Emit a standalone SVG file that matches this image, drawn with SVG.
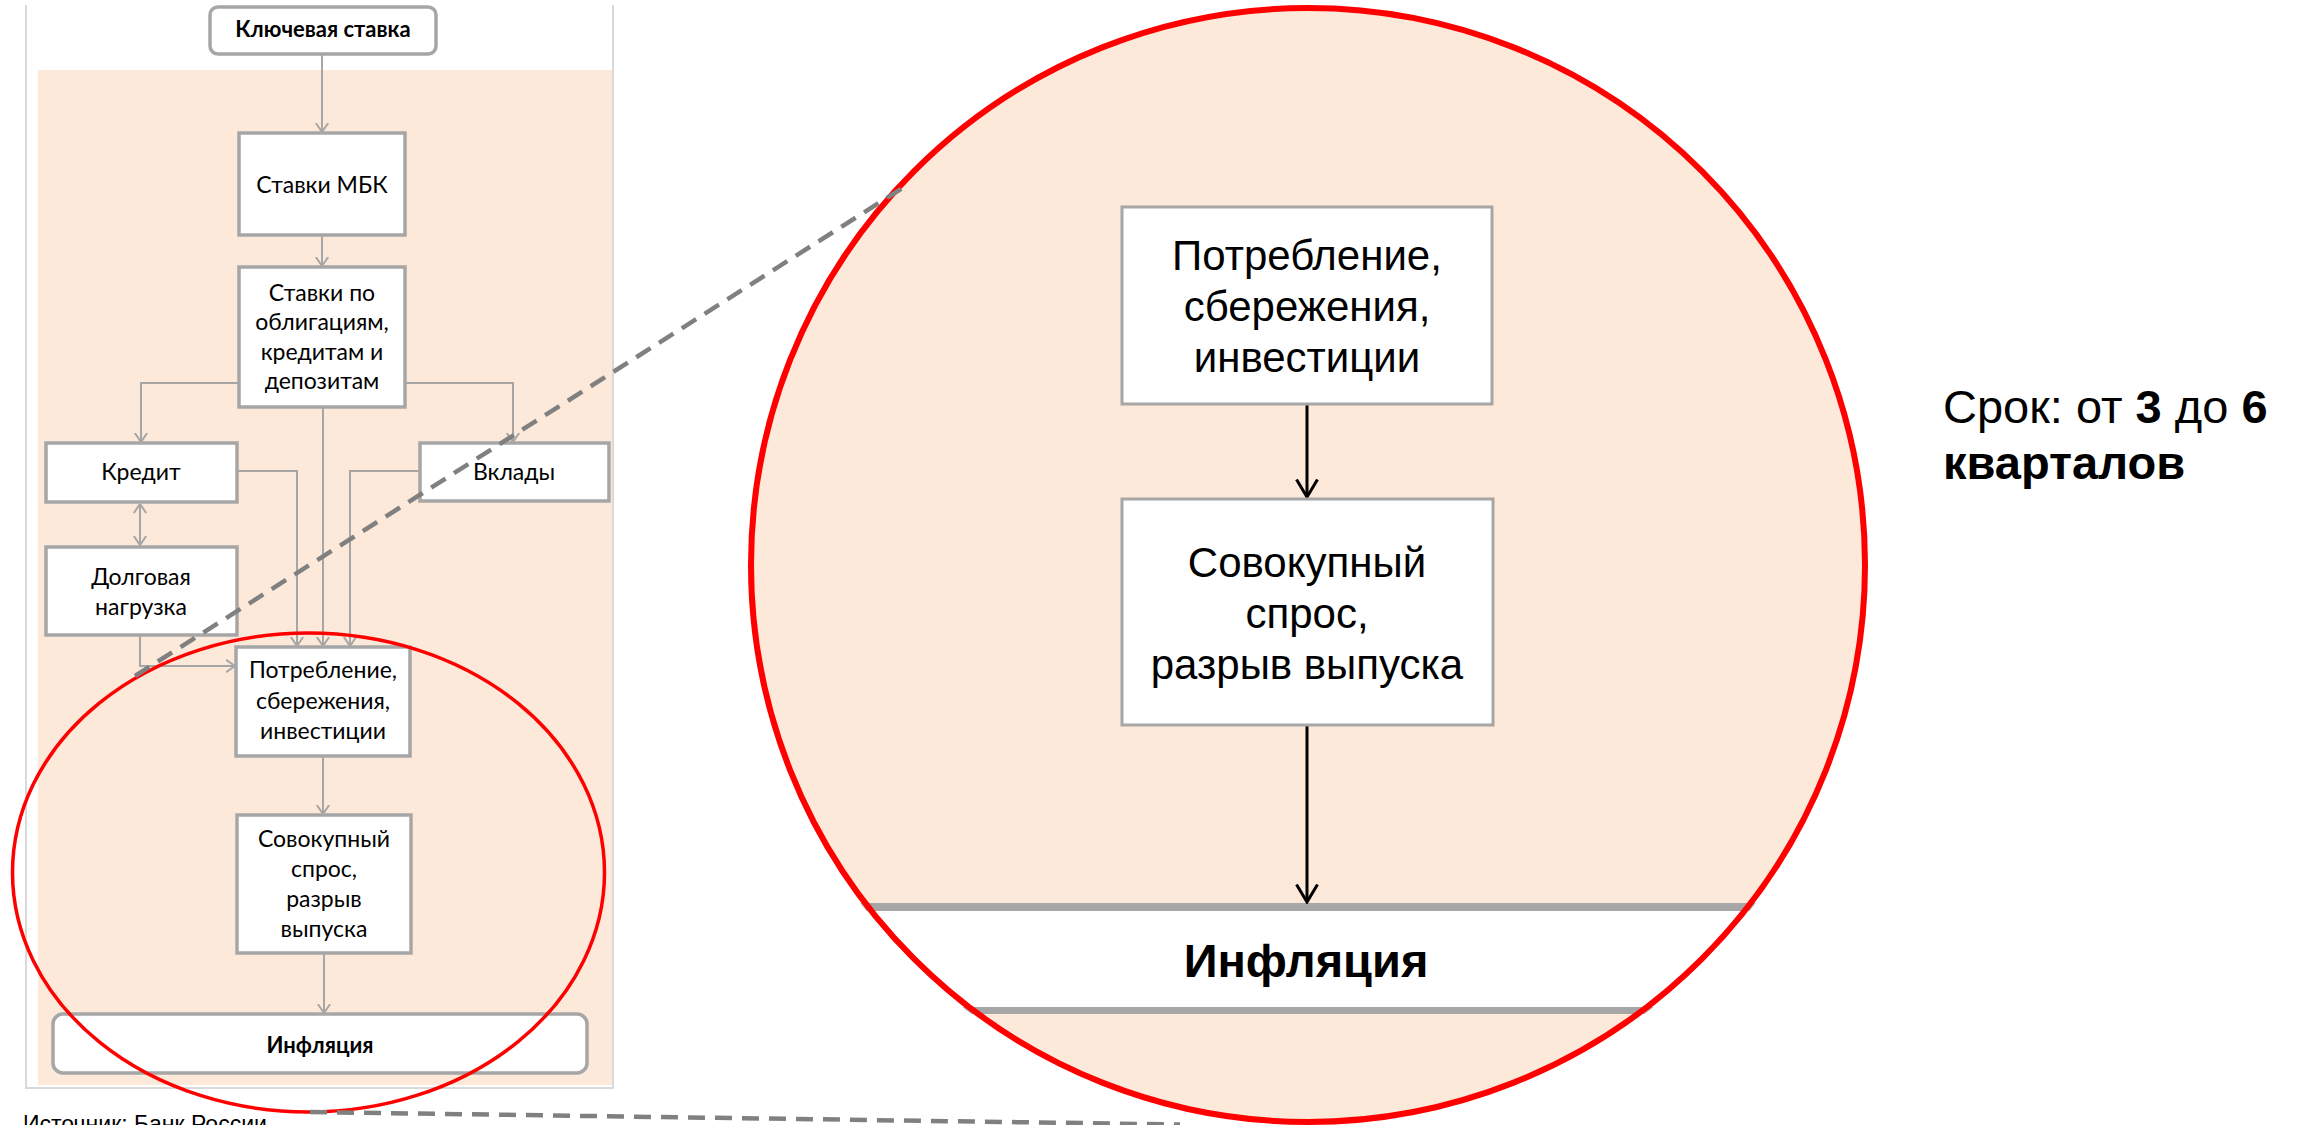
<svg xmlns="http://www.w3.org/2000/svg" width="2300" height="1125" viewBox="0 0 2300 1125">
  <style>
    .lbox { fill: #ffffff; stroke: #a6a6a6; stroke-width: 3.5; }
    .lt { font-family: Lato, "Liberation Sans", sans-serif; font-size: 23px; fill: #000; text-anchor: middle; }
    .ltb { font-family: Lato, "Liberation Sans", sans-serif; font-size: 22px; font-weight: bold; fill: #000; text-anchor: middle; }
    .gc { fill: none; stroke: #a6a6a6; stroke-width: 2; }
    .bbox { fill: #ffffff; stroke: #a6a6a6; stroke-width: 3; }
    .bt { font-family: "Liberation Sans", Arial, sans-serif; font-size: 42px; fill: #000; text-anchor: middle; }
    .btb { font-family: "Liberation Sans", Arial, sans-serif; font-size: 47px; font-weight: bold; fill: #000; text-anchor: middle; }
    .bc { fill: none; stroke: #000; stroke-width: 3; }
    .dash { fill: none; stroke: #808080; stroke-width: 4.5; stroke-dasharray: 17 10; }
    .rt { font-family: "Liberation Sans", Arial, sans-serif; font-size: 47px; fill: #000; }
  </style>
  <defs>
    <marker id="ag" viewBox="0 0 10 14" refX="9.5" refY="7" markerWidth="10" markerHeight="14" markerUnits="userSpaceOnUse" orient="auto-start-reverse">
      <path d="M0.5,0.8 L9.5,7 L0.5,13.2" fill="none" stroke="#a6a6a6" stroke-width="2"/>
    </marker>
    <marker id="ab" viewBox="0 0 20 24" refX="18.5" refY="12" markerWidth="20" markerHeight="24" markerUnits="userSpaceOnUse" orient="auto">
      <path d="M1,1.5 L18.5,12 L1,22.5" fill="none" stroke="#000" stroke-width="3"/>
    </marker>
    <clipPath id="bigclip">
      <circle cx="1308" cy="565" r="561"/>
    </clipPath>
  </defs>

  <rect x="0" y="0" width="2300" height="1125" fill="#ffffff"/>

  <!-- Left panel background -->
  <g id="left-panel">
    <rect x="38" y="70" width="575" height="1015" fill="#fde9d9"/>
    <path d="M26,5 V1088 H613 V5" fill="none" stroke="#d9d9d9" stroke-width="2"/>
  </g>

  <!-- Left connectors -->
  <g id="connectors-left">
    <path class="gc" d="M322,55 V132" marker-end="url(#ag)"/>
    <path class="gc" d="M322,236 V266" marker-end="url(#ag)"/>
    <path class="gc" d="M239,383 H141 V442" marker-end="url(#ag)"/>
    <path class="gc" d="M405,383 H513 V442" marker-end="url(#ag)"/>
    <path class="gc" d="M140,504 V545" marker-start="url(#ag)" marker-end="url(#ag)"/>
    <path class="gc" d="M237,471 H297 V646" marker-end="url(#ag)"/>
    <path class="gc" d="M323,408 V646" marker-end="url(#ag)"/>
    <path class="gc" d="M420,471 H350 V646" marker-end="url(#ag)"/>
    <path class="gc" d="M140,636 V666 H235" marker-end="url(#ag)"/>
    <path class="gc" d="M323,757 V814" marker-end="url(#ag)"/>
    <path class="gc" d="M324,954 V1013" marker-end="url(#ag)"/>
  </g>

  <!-- Left nodes -->
  <g id="n-key-rate">
    <rect x="210" y="7" width="226" height="47" rx="8" class="lbox" stroke-width="4"/>
    <text class="ltb" x="323" y="37">Ключевая ставка</text>
  </g>
  <g id="n-mbk">
    <rect x="239" y="133" width="166" height="102" class="lbox"/>
    <text class="lt" x="322" y="193">Ставки МБК</text>
  </g>
  <g id="n-rates">
    <rect x="239" y="267" width="166" height="140" class="lbox"/>
    <text class="lt" x="322" y="301">Ставки по</text>
    <text class="lt" x="322" y="330">облигациям,</text>
    <text class="lt" x="322" y="360">кредитам и</text>
    <text class="lt" x="322" y="389">депозитам</text>
  </g>
  <g id="n-credit">
    <rect x="46" y="443" width="191" height="59" class="lbox"/>
    <text class="lt" x="141" y="480">Кредит</text>
  </g>
  <g id="n-deposits">
    <rect x="420" y="443" width="189" height="58" class="lbox"/>
    <text class="lt" x="514" y="480">Вклады</text>
  </g>
  <g id="n-debt">
    <rect x="46" y="547" width="191" height="88" class="lbox"/>
    <text class="lt" x="141" y="585">Долговая</text>
    <text class="lt" x="141" y="615">нагрузка</text>
  </g>
  <g id="n-consumption-small">
    <rect x="236" y="647" width="174" height="109" class="lbox"/>
    <text class="lt" x="323" y="678">Потребление,</text>
    <text class="lt" x="323" y="709">сбережения,</text>
    <text class="lt" x="323" y="739">инвестиции</text>
  </g>
  <g id="n-demand-small">
    <rect x="237" y="815" width="174" height="138" class="lbox"/>
    <text class="lt" x="324" y="847">Совокупный</text>
    <text class="lt" x="324" y="877">спрос,</text>
    <text class="lt" x="324" y="907">разрыв</text>
    <text class="lt" x="324" y="937">выпуска</text>
  </g>
  <g id="n-inflation-small">
    <rect x="53" y="1014" width="534" height="59" rx="10" class="lbox" stroke-width="4"/>
    <text class="ltb" x="320" y="1053">Инфляция</text>
  </g>

  <!-- Source -->
  <text x="23" y="1132" font-family="'Liberation Sans', Arial, sans-serif" font-size="23" fill="#000">Источник: Банк России</text>

  <!-- Big zoom circle -->
  <g id="zoom-circle">
    <circle cx="1308" cy="565" r="557" fill="#fde9d9"/>
    <g clip-path="url(#bigclip)">
      <rect x="700" y="907" width="1250" height="104" fill="#ffffff"/>
      <line x1="700" y1="907" x2="1950" y2="907" stroke="#a6a6a6" stroke-width="8"/>
      <line x1="700" y1="1010.5" x2="1950" y2="1010.5" stroke="#a6a6a6" stroke-width="7"/>
    </g>
  </g>

  <g id="connectors-big">
    <path class="bc" d="M1307,405 V497" marker-end="url(#ab)"/>
    <path class="bc" d="M1307,726 V902" marker-end="url(#ab)"/>
  </g>

  <g id="n-consumption-big">
    <rect x="1122" y="207" width="370" height="197" class="bbox"/>
    <text class="bt" x="1307" y="270">Потребление,</text>
    <text class="bt" x="1307" y="321">сбережения,</text>
    <text class="bt" x="1307" y="372">инвестиции</text>
  </g>
  <g id="n-demand-big">
    <rect x="1122" y="499" width="371" height="226" class="bbox"/>
    <text class="bt" x="1307" y="577">Совокупный</text>
    <text class="bt" x="1307" y="628">спрос,</text>
    <text class="bt" x="1307" y="679">разрыв выпуска</text>
  </g>
  <g id="n-inflation-big">
    <text class="btb" x="1306" y="977">Инфляция</text>
  </g>

  <!-- Red highlight ellipses -->
  <g id="highlights">
    <ellipse cx="308.5" cy="872.5" rx="296" ry="239.5" fill="none" stroke="#ff0000" stroke-width="3.5"/>
    <circle cx="1308" cy="565" r="557" fill="none" stroke="#ff0000" stroke-width="6"/>
  </g>

  <!-- Dashed zoom lines -->
  <g id="zoom-lines">
    <line class="dash" x1="135" y1="676" x2="904" y2="187"/>
    <line class="dash" x1="310" y1="1112" x2="1180" y2="1124.5"/>
  </g>

  <!-- Right text -->
  <g id="duration">
    <text class="rt" x="1943" y="423">Срок: от <tspan font-weight="bold">3</tspan> до <tspan font-weight="bold">6</tspan></text>
    <text class="rt" x="1943" y="479" font-weight="bold">кварталов</text>
  </g>
</svg>
